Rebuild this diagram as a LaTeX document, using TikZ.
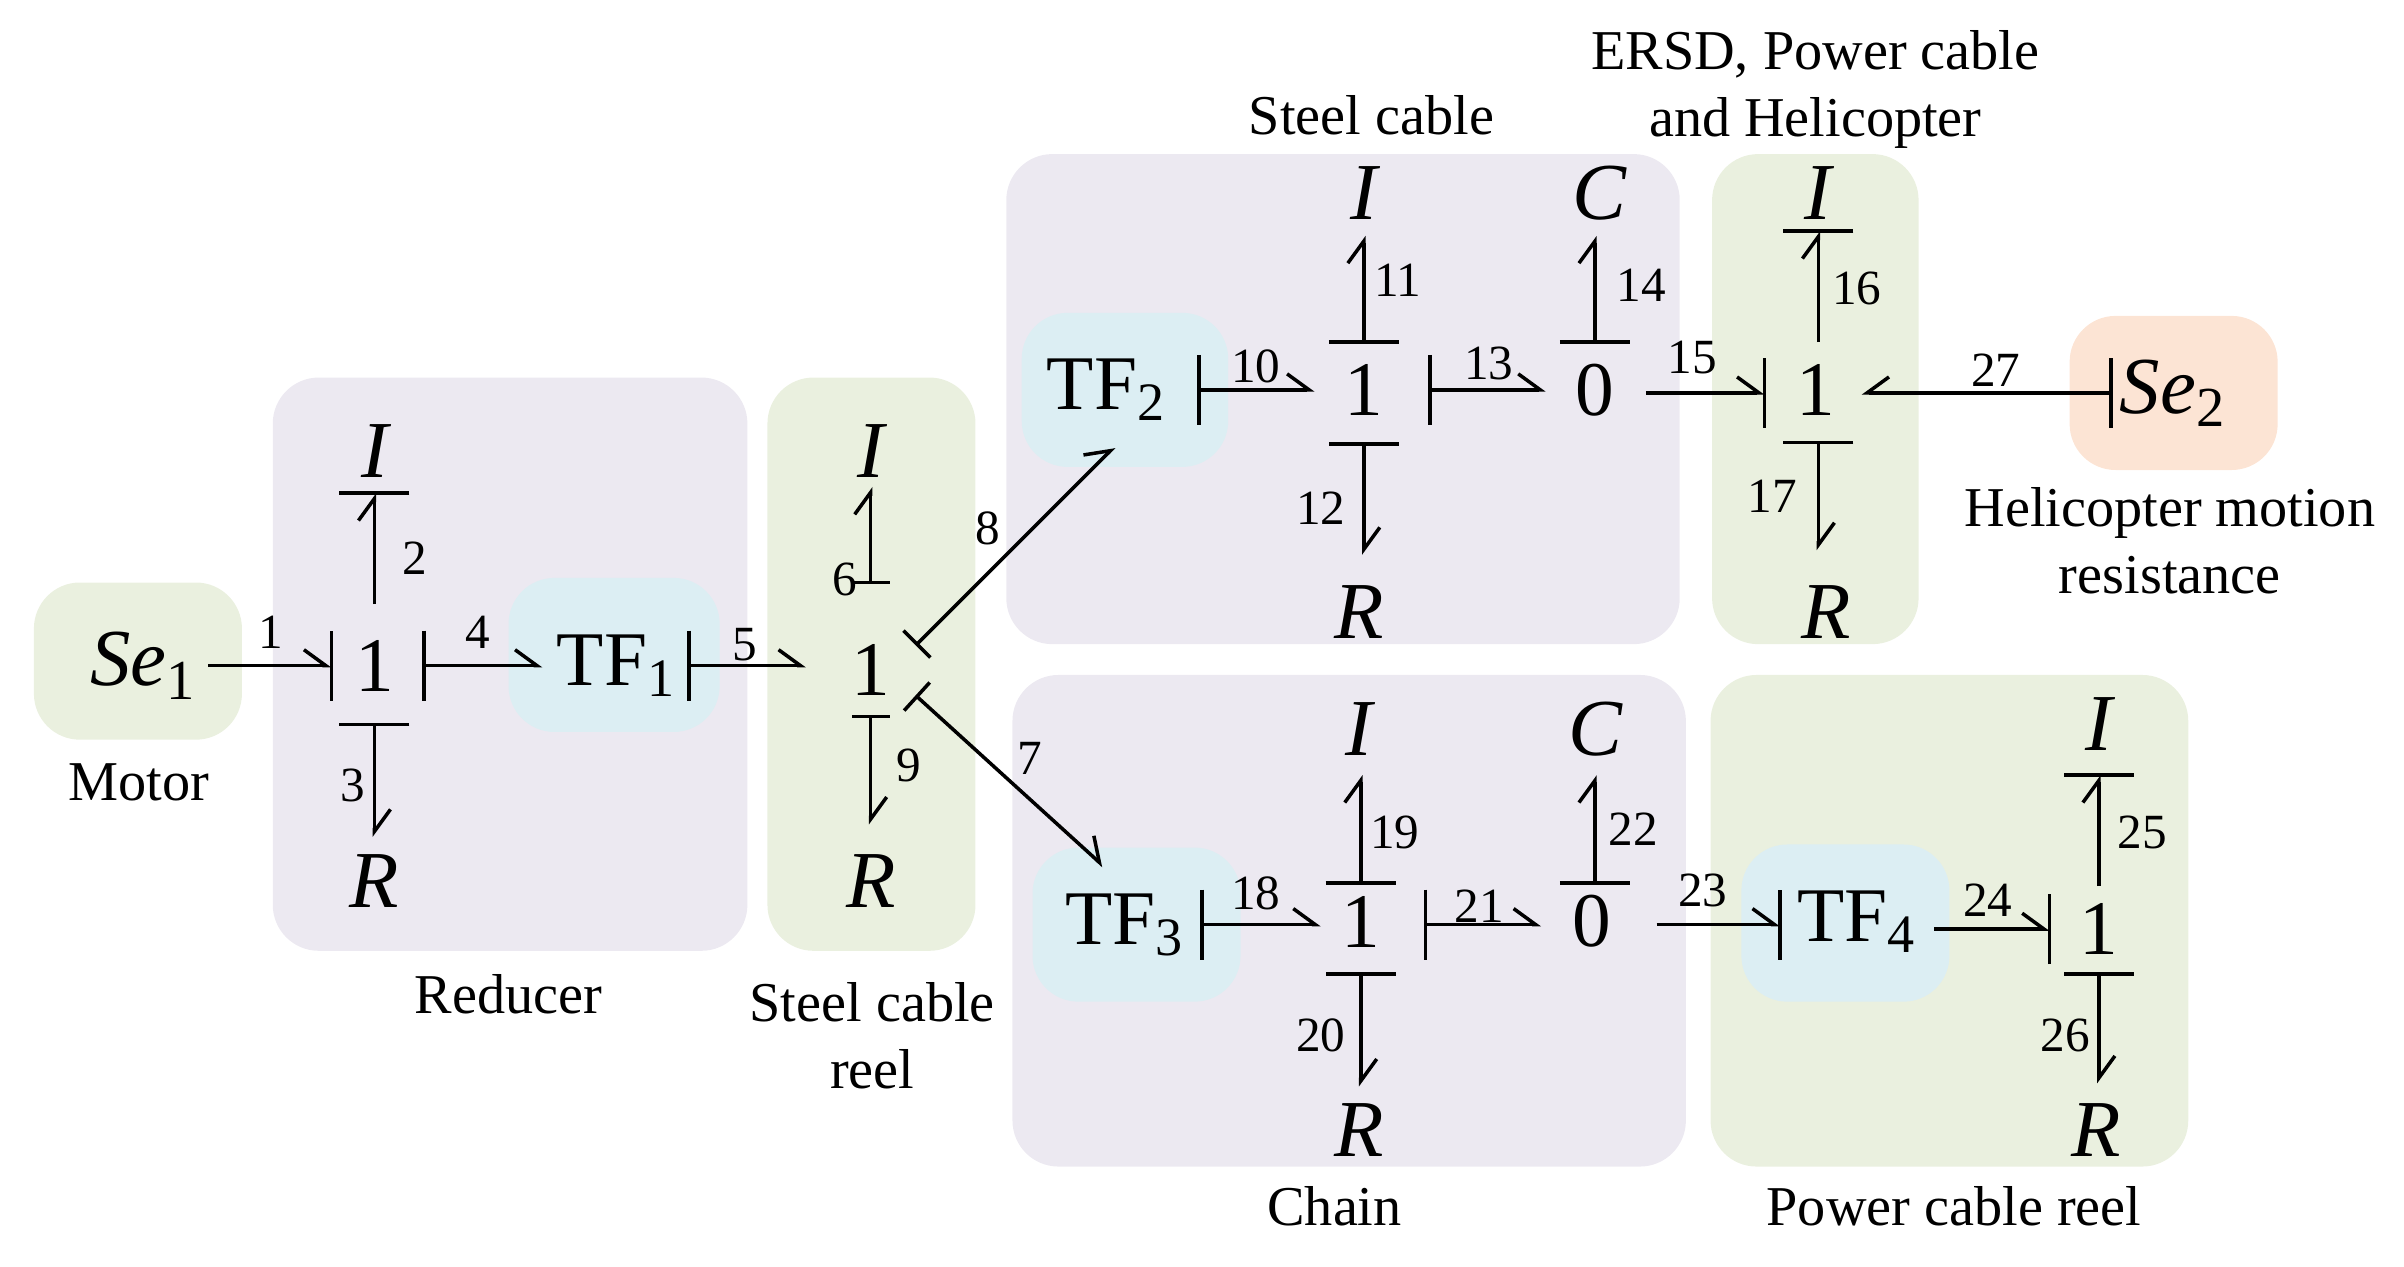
\documentclass[tikz,border=0pt]{standalone}
\usepackage{fontspec}
\setmainfont{Liberation Serif}
\usetikzlibrary{arrows.meta,calc}
\definecolor{cpur}{HTML}{ECE9F1}
\definecolor{cgre}{HTML}{EAF0DF}
\definecolor{cblu}{HTML}{DCEEF3}
\definecolor{cora}{HTML}{FCE4D4}
\newcommand\bgbond[3]{% from, to, stroke: s/e
  \draw[bd] (#1) -- (#2);
  \ifx s#3\draw[st] ($(#1)!0.35cm!90:(#2)$) -- ($(#1)!0.35cm!-90:(#2)$);\else
  \draw[st] ($(#2)!0.35cm!90:(#1)$) -- ($(#2)!0.35cm!-90:(#1)$);\fi}
\newcommand\sbond[2]{% short causal stroke at start
  \draw[bd] (#1) -- (#2);
  \draw[st] ($(#1)!0.19cm!90:(#2)$) -- ($(#1)!0.19cm!-90:(#2)$);}
\begin{document}
\begin{tikzpicture}[x=0.01541cm,y=-0.01541cm,
  bd/.style={line width=1pt,-{Straight Barb[left,length=0.22cm,width=0.32cm,line width=1pt]}},
  bdr/.style={line width=1pt,-{Straight Barb[right,length=0.22cm,width=0.32cm,line width=1pt]}},
  st/.style={line width=1pt},
  box/.style={rounded corners=0.46cm},
  jn/.style={font=\fontsize{22}{24}\selectfont},
  el/.style={font=\fontsize{23}{26}\selectfont\itshape},
  num/.style={font=\fontsize{14}{16}\selectfont,inner sep=1pt},
  capt/.style={font=\fontsize{16}{19}\selectfont,align=center}]
\useasboundingbox (0,0) rectangle (1560,822);
% boxes
\fill[cgre,box] (22,378) rectangle (157,480);
\fill[cpur,box] (177,245) rectangle (485,617);
\fill[cblu,box] (330,375) rectangle (467,475);
\fill[cgre,box] (498,245) rectangle (633,617);
\fill[cpur,box] (653,100) rectangle (1090,418);
\fill[cblu,box] (663,203) rectangle (797,303);
\fill[cgre,box] (1111,100) rectangle (1245,418);
\fill[cora,box] (1343,205) rectangle (1478,305);
\fill[cpur,box] (657,438) rectangle (1094,757);
\fill[cblu,box] (670,550) rectangle (805,650);
\fill[cgre,box] (1110,438) rectangle (1420,757);
\fill[cblu,box] (1130,548) rectangle (1265,650);
% element nodes
\node[el] (se1) at (93,432) {Se\textsubscript{\upshape 1}};
\node[jn] (j1) at (243,432) {1};
\node[el] (i1) at (243,293) {I};
\node[el] (r1) at (243,572) {R};
\node[jn] (tf1) at (400,432) {TF\textsubscript{1}};
\node[jn] (j2) at (565,435) {1};
\node[el] (i2) at (565,293) {I};
\node[el] (r2) at (565,572) {R};
\node[jn] (tf2) at (718,253) {TF\textsubscript{2}};
\node[jn] (j3) at (885,253) {1};
\node[el] (i3) at (885,125) {I};
\node[el] (r3) at (882,397) {R};
\node[jn] (z1) at (1035,253) {0};
\node[el] (c1) at (1038,125) {C};
\node[jn] (j4) at (1178,253) {1};
\node[el] (i4) at (1180,125) {I};
\node[el] (r4) at (1185,397) {R};
\node[el] (se2) at (1410,255) {Se\textsubscript{\upshape 2}};
\node[jn] (tf3) at (730,600) {TF\textsubscript{3}};
\node[jn] (j5) at (883,598) {1};
\node[el] (i5) at (882,473) {I};
\node[el] (r5) at (882,733) {R};
\node[jn] (z2) at (1033,598) {0};
\node[el] (c2) at (1035,473) {C};
\node[jn] (tf4) at (1205,598) {TF\textsubscript{4}};
\node[jn] (j6) at (1362,603) {1};
\node[el] (i6) at (1362,470) {I};
\node[el] (r6) at (1360,733) {R};
% captions
\node[capt] (lm) at (90,508) {Motor};
\node[capt] (lr) at (330,645) {Reducer};
\node[capt] (lsr) at (566,672) {Steel cable\\reel};
\node[capt] (lsc) at (890,75) {Steel cable};
\node[capt] (le) at (1178,58) {ERSD, Power cable\\and Helicopter};
\node[capt] (lh) at (1408,351) {Helicopter motion\\resistance};
\node[capt] (lc) at (866,783) {Chain};
\node[capt] (lp) at (1268,783) {Power cable reel};
% bond end coordinates
\foreach \n/\x/\y in {a1/135/432,b1/215/432, a2/243/392,b2/243/320, a3/243/470,b3/243/543,
 a4/275/432,b4/352/432, a5/447/432,b5/523/432, a6/565/378,b6/565/316, a9/565/465,b9/565/535,
 a8/595/418,b8/723/290, a7/595/452,b7/716/562, a10/778/253,b10/853/253,
 a11/885/222,b11/885/153, a12/885/288,b12/885/360, a13/928/253,b13/1003/253,
 a14/1035/222,b14/1035/153, a15/1068/255,b15/1145/255, a16/1180/222,b16/1180/150,
 a17/1180/287,b17/1180/357, a27/1370/255,b27/1208/255, a18/780/600,b18/857/600,
 a19/883/573,b19/883/503, a20/883/632,b20/883/705, a21/925/600,b21/1000/600,
 a22/1035/573,b22/1035/503, a23/1075/600,b23/1155/600, a24/1255/603,b24/1330/603,
 a25/1362/575,b25/1362/503, a26/1362/632,b26/1362/703}
 {\coordinate (\n) at (\x,\y);}
\bgbond{a1}{b1}{e}\bgbond{a2}{b2}{e}\bgbond{a3}{b3}{s}\bgbond{a4}{b4}{s}
\bgbond{a5}{b5}{s}\sbond{a6}{b6}\sbond{a9}{b9}\sbond{a8}{b8}
\sbond{a7}{b7}\bgbond{a10}{b10}{s}\bgbond{a11}{b11}{s}\bgbond{a12}{b12}{s}
\bgbond{a13}{b13}{s}\bgbond{a14}{b14}{s}\bgbond{a15}{b15}{e}\bgbond{a16}{b16}{e}
\bgbond{a17}{b17}{s}\bgbond{a18}{b18}{s}\bgbond{a19}{b19}{s}\bgbond{a20}{b20}{s}
\bgbond{a21}{b21}{s}\bgbond{a22}{b22}{s}\bgbond{a23}{b23}{e}\bgbond{a24}{b24}{e}
\bgbond{a25}{b25}{e}\bgbond{a26}{b26}{s}
\draw[bdr] (a27) -- (b27);
\draw[st] ($(a27)!0.35cm!90:(b27)$) -- ($(a27)!0.35cm!-90:(b27)$);
% bond numbers
\foreach \k/\x/\y in {1/176/410,2/269/362,3/229/510,4/310/410,5/483/418,6/548/376,
 9/590/497,8/641/343,7/668/492,10/815/238,11/907/182,12/857/330,13/966/236,
 14/1065/185,15/1098/232,16/1205/187,17/1150/322,27/1295/240,18/815/580,
 19/905/540,20/857/672,21/960/588,22/1060/538,23/1105/578,24/1290/584,
 25/1390/540,26/1340/672}
 {\node[num] (n\k) at (\x,\y) {\k};}
\end{tikzpicture}
\end{document}
